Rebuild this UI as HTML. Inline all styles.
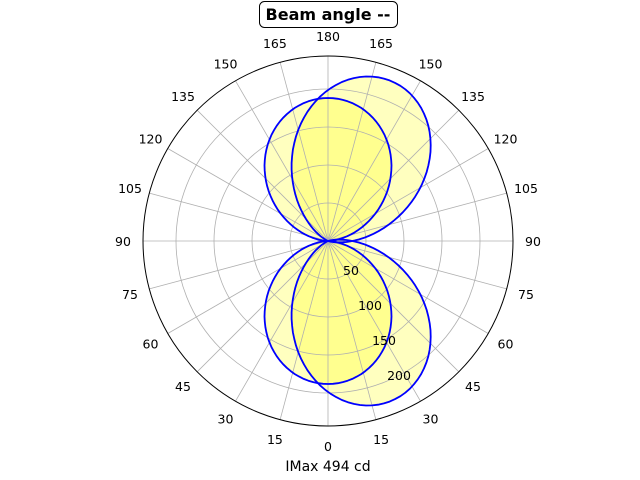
<!DOCTYPE html>
<html><head><meta charset="utf-8"><style>
body{margin:0;background:#fff;width:640px;height:480px;overflow:hidden}
svg{display:block;font-family:"DejaVu Sans","Liberation Sans",sans-serif}
</style></head><body>
<svg id="s" width="640" height="480" viewBox="0 0 640 480" xmlns="http://www.w3.org/2000/svg">
<g id="fills"></g><g id="grid"></g><g id="lines"></g><g id="txt" font-size="12.5" fill="#000"></g>
<rect x="259.5" y="1.5" width="138" height="26" rx="5" fill="#fff" stroke="#000" stroke-width="1"/>
<text x="328" y="20" text-anchor="middle" font-size="16" font-weight="bold" font-family="DejaVu Sans, Liberation Sans, sans-serif">Beam angle --</text>
<text x="328" y="471" text-anchor="middle" font-size="14" font-family="DejaVu Sans, Liberation Sans, sans-serif">IMax 494 cd</text>
</svg>
<script>
var cx=328,cy=241,R=185,NS="http://www.w3.org/2000/svg";
function el(p,t,a){var e=document.createElementNS(NS,t);for(var k in a)e.setAttribute(k,a[k]);document.getElementById(p).appendChild(e);return e;}
function lobe(Rm,phi,p,sign){var pts=[];for(var d=-90+phi;d<=90+phi;d+=2){var c=Math.cos((d-phi)*Math.PI/180);var r=Rm*Math.pow(Math.max(c,0),p);var a=d*Math.PI/180;pts.push((cx+r*Math.sin(a)).toFixed(1)+","+(cy-sign*r*Math.cos(a)).toFixed(1));}return pts.join(" ");}
var L=[lobe(143,0,1.39,1),lobe(172,21,1.9,1),lobe(143,0,1.39,-1),lobe(172,21,1.9,-1)];
L.forEach(function(p){el("fills","polygon",{points:p,fill:"#ffff00","fill-opacity":"0.25",stroke:"none"});});
[38,76,114,152].forEach(function(r){el("grid","circle",{cx:cx,cy:cy,r:r,fill:"none",stroke:"#b0b0b0","stroke-width":"0.8"});});
for(var a=0;a<360;a+=15){var t=a*Math.PI/180;el("grid","line",{x1:cx,y1:cy,x2:cx+R*Math.sin(t),y2:cy+R*Math.cos(t),stroke:"#b0b0b0","stroke-width":"0.8"});}
el("grid","circle",{cx:cx,cy:cy,r:R,fill:"none",stroke:"#000","stroke-width":"1"});
L.forEach(function(p){el("lines","polygon",{points:p,fill:"none",stroke:"#0000ff","stroke-width":"1.8","stroke-linejoin":"round"});});
for(var a=0;a<360;a+=15){var t=a*Math.PI/180;var lab=a<=180?a:360-a;var x=cx+205*Math.sin(t),y=cy+205*Math.cos(t)+5;var e=el("txt","text",{x:x.toFixed(1),y:y.toFixed(1),"text-anchor":"middle"});e.textContent=lab;}
[[351,275,"50"],[370,310,"100"],[384,345,"150"],[399,380,"200"]].forEach(function(v){var e=el("txt","text",{x:v[0],y:v[1],"text-anchor":"middle"});e.textContent=v[2];});
</script>
</body></html>
